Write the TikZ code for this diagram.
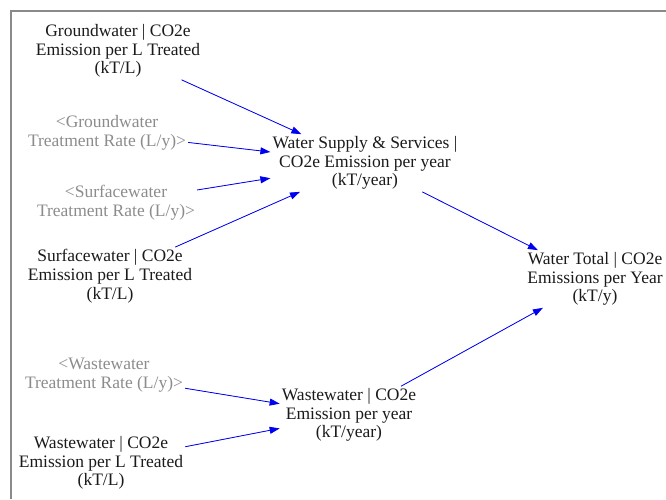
\documentclass[tikz,border=0pt]{standalone}
\usepackage{fontspec}
\setmainfont{Liberation Serif}
\usetikzlibrary{arrows.meta}
\definecolor{vartext}{HTML}{1A1A1A}
\definecolor{shadowtext}{HTML}{8C8C8C}
\definecolor{linkblue}{HTML}{0000F0}
\definecolor{framegray}{HTML}{8A8A8A}
\tikzset{
  var/.style={align=center, inner sep=2pt, text=vartext,
    font=\fontsize{17.5pt}{18.7pt}\selectfont},
  shadow/.style={var, text=shadowtext},
  link/.style={draw=linkblue, line width=0.8pt,
    -{Triangle[length=10pt,width=7pt]}, fill=linkblue},
}
\begin{document}
\begin{tikzpicture}[x=1pt,y=-1pt]
  \useasboundingbox (0,0) rectangle (666,499);
  % frame
  \draw[framegray, line width=1.3pt] (11,499) -- (11,11) -- (666,11);

  % variables
  \node[var]    (gwco2)  at (118,51)  {Groundwater | CO2e\\Emission per L Treated\\(kT/L)};
  \node[shadow] (gwrate) at (107,133) {<Groundwater\\Treatment Rate (L/y)>};
  \node[shadow] (swrate) at (116,203) {<Surfacewater\\Treatment Rate (L/y)>};
  \node[var]    (swco2)  at (110,276) {Surfacewater | CO2e\\Emission per L Treated\\(kT/L)};
  \node[var]    (wss)    at (365,163) {Water Supply \& Services |\\CO2e Emission per year\\(kT/year)};
  \node[var]    (wt)     at (595,279) {Water Total | CO2e\\Emissions per Year\\(kT/y)};
  \node[shadow] (wwrate) at (104,375) {<Wastewater\\Treatment Rate (L/y)>};
  \node[var]    (ww)     at (349,415) {Wastewater | CO2e\\Emission per year\\(kT/year)};
  \node[var]    (wwco2)  at (101,463) {Wastewater | CO2e\\Emission per L Treated\\(kT/L)};

  % causal links
  \draw[link] (gwco2)  -- (wss);
  \draw[link] (gwrate) -- (wss);
  \draw[link] (swrate) -- (wss);
  \draw[link] (swco2)  -- (wss);
  \draw[link] (wss)    -- (wt);
  \draw[link] (ww)     -- (wt);
  \draw[link] (wwrate) -- (ww);
  \draw[link] (wwco2)  -- (ww);
\end{tikzpicture}
\end{document}
